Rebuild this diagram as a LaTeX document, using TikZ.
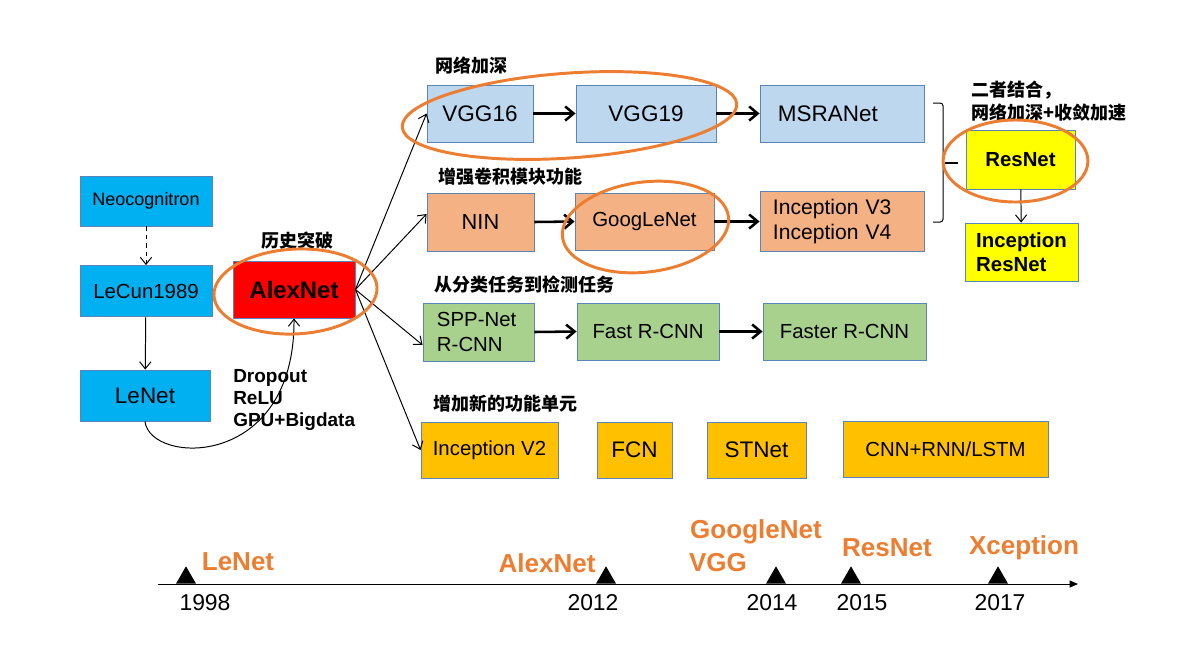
\documentclass[tikz,border=0pt]{standalone}
\usepackage{fontspec}
\setmainfont{Liberation Sans}
\newfontfamily\cjk{Noto Sans CJK SC}
\usetikzlibrary{arrows.meta,calc,shapes.geometric}

\definecolor{cyanfill}{HTML}{00B0F0}
\definecolor{vggfill}{HTML}{BDD7EE}
\definecolor{ninfill}{HTML}{F4B183}
\definecolor{detfill}{HTML}{A9D18E}
\definecolor{unitfill}{HTML}{FFC000}
\definecolor{resfill}{HTML}{FFFF00}
\definecolor{boxline}{HTML}{5B84B8}
\definecolor{hlorange}{HTML}{ED7D31}
\newcommand{\fsz}[2]{\fontsize{#1pt}{#2pt}\selectfont}

\begin{document}
\begin{tikzpicture}[
x=0.025cm, y=-0.025cm,
box/.style={
	draw=boxline, line width=0.6pt, inner sep=0pt,
	minimum height=1.425cm, font=\fsz{14.5}{18}
},
cyanbox/.style={box, fill=cyanfill},
vggbox/.style={box, fill=vggfill},
ninbox/.style={box, fill=ninfill},
detbox/.style={box, fill=detfill},
unitbox/.style={box, fill=unitfill},
resbox/.style={box, fill=resfill, font=\bfseries\fsz{14.5}{17}},
flow/.style={line width=1.8pt, -{Straight Barb[length=6pt,width=10pt]}},
fan/.style={line width=0.7pt, -{Straight Barb[length=5pt,width=8pt]}},
hl/.style={draw=hlorange, line width=2.1pt},
tag/.style={font=\cjk\bfseries\fsz{12.8}{16.4}, anchor=west, inner sep=0pt, align=left},
yearlbl/.style={font=\fsz{16.3}{19}},
milestone/.style={text=hlorange, font=\bfseries\fsz{18.5}{22}, inner sep=0pt},
tri/.style={regular polygon, regular polygon sides=3, fill=black,
	minimum size=0.58cm, inner sep=0pt, anchor=south}
]
\useasboundingbox (0,0) rectangle (1198,654);

% left column
\node[cyanbox, minimum width=3.3cm, minimum height=1.25cm, font=\fsz{12.8}{15}] (neo) at (146,201) {Neocognitron};
\node[cyanbox, minimum width=3.3cm, minimum height=1.275cm] (lecun) at (146,291) {LeCun1989};
\node[cyanbox, minimum width=3.25cm, minimum height=1.275cm, font=\fsz{16}{19}] (lenet) at (145,395.5) {LeNet};
\node[box, fill=red, minimum width=3.05cm, font=\bfseries\fsz{17}{20}] (alex) at (294,289.5) {AlexNet};
\node[tag, anchor=center] (breakthrough) at (297,241) {历史突破};
\node[anchor=west, align=left, inner sep=0pt, font=\bfseries\fsz{13.5}{15.8}] (tricks) at (233,400) {Dropout\\ReLU\\GPU+Bigdata};

% deeper
\node[tag] (deeper) at (435,66) {网络加深};
\node[vggbox, minimum width=2.65cm, font=\fsz{16}{19}] (vgg16) at (480,113.5) {VGG16};
\node[vggbox, minimum width=3.5cm, font=\fsz{16}{19}] (vgg19) at (646,113.5) {VGG19};
\node[vggbox, minimum width=4.1cm, text width=3.2cm, inner xsep=0.45cm, align=left, font=\fsz{16}{19}] (msra) at (842,113.5) {MSRANet};

% inception
\node[tag] (convblock) at (438,177) {增强卷积模块功能};
\node[ninbox, minimum width=2.675cm, minimum height=1.45cm, font=\fsz{15.5}{18}] (nin) at (480.5,222) {NIN};
\node[ninbox, minimum width=3.475cm] (goog) at (644.5,221.5) {GoogLeNet};
\node[ninbox, minimum width=4.1cm, minimum height=1.5cm, text width=3.45cm, inner xsep=0.325cm, align=left, font=\fsz{15}{17.8}] (incv34) at (842,221.5) {Inception V3\\Inception V4};

% detection
\node[tag] (detect) at (434,285) {从分类任务到检测任务};
\node[detbox, minimum width=2.775cm, minimum height=1.45cm, text width=2.075cm, inner xsep=0.35cm, align=left] (spp) at (478.5,332) {SPP-Net\\R-CNN};
\node[detbox, minimum width=3.55cm] (fast) at (648,331.5) {Fast R-CNN};
\node[detbox, minimum width=4.075cm] (faster) at (844.5,331.5) {Faster R-CNN};

% new units
\node[tag] (newunit) at (433,404) {增加新的功能单元};
\node[unitbox, minimum width=3.425cm, minimum height=1.4cm] (incv2) at (489.5,450) {Inception V2};
\node[unitbox, minimum width=1.875cm, minimum height=1.4cm, font=\fsz{16}{19}] (fcn) at (634.5,450) {FCN};
\node[unitbox, minimum width=2.475cm, minimum height=1.4cm, font=\fsz{16}{19}] (stnet) at (756.5,450) {STNet};
\node[unitbox, minimum width=5.125cm, minimum height=1.4cm] (cnnrnn) at (945.5,449) {CNN+RNN/LSTM};

% resnet
\node[tag] (combine) at (971,101.5) {二者结合，\\网络加深+收敛加速};
\node[resbox, minimum width=2.725cm, minimum height=1.475cm] (resnet) at (1020.5,159.5) {ResNet};
\node[resbox, minimum width=2.825cm, minimum height=1.45cm, align=left] (incres) at (1021.5,252) {Inception\\ResNet};

% connectors
\draw[fan, dashed] (neo) -- (lecun);
\draw[fan] (lecun) -- (lenet);
\draw[fan] (lenet.south) .. controls (150,465) and (295,470) .. (alex.south);
\draw[fan] (alex.east) -- (vgg16.west);
\draw[fan] (alex.east) -- ($(nin.west)+(0,-8)$);
\draw[fan] (alex.east) -- ($(spp.west)+(0,13)$);
\draw[fan] (alex.east) -- (incv2.west);
\draw[flow] (vgg16.east) -- (vgg19.west);
\draw[flow] (vgg19.east) -- (msra.west);
\draw[flow] (nin.east) -- (goog.west);
\draw[flow] (goog.east) -- (incv34.west);
\draw[flow] (spp.east) -- (fast.west);
\draw[flow] (fast.east) -- (faster.west);
\draw[fan] (resnet) -- (incres);
\draw[line width=0.7pt, rounded corners=2pt] (933,103) -- (943,103) -- (943,222) -- (933,222);
\draw[line width=0.9pt] (945,163) -- (958,163);

% highlights
\draw[hl, rotate around={3:(295.5,291.5)}] (295.5,291.5) ellipse [x radius=2.04cm, y radius=1.06cm];
\draw[hl, rotate around={4:(569.5,115.5)}] (569.5,115.5) ellipse [x radius=4.19cm, y radius=1.06cm];
\draw[hl, rotate around={7:(645.5,227)}] (645.5,227) ellipse [x radius=2.09cm, y radius=1.125cm];
\draw[hl] (1015.5,161) ellipse [x radius=1.81cm, y radius=1.025cm];

% timeline
\coordinate (tlstart) at (158,584);
\coordinate (tlend) at (1078,584);
\draw[line width=0.7pt, -{Triangle[length=6pt,width=5pt]}] (tlstart) -- (tlend);
\foreach \name/\x in {t98/186, t12/606, t14/776, t15/851, t17/998}
	\node[tri] (\name) at (\x,584) {};
\node[yearlbl] (y98) at (205,603) {1998};
\node[yearlbl] (y12) at (593,603) {2012};
\node[yearlbl] (y14) at (772,603) {2014};
\node[yearlbl] (y15) at (862,603) {2015};
\node[yearlbl] (y17) at (1000,603) {2017};
\node[milestone] (mlenet) at (238,562) {LeNet};
\node[milestone] (malex) at (547,563) {AlexNet};
\node[milestone] (mgoog) at (756,532) {GoogleNet};
\node[milestone] (mvgg) at (718,563) {VGG};
\node[milestone] (mres) at (887,548) {ResNet};
\node[milestone] (mxcep) at (1024,548) {Xception};
\end{tikzpicture}
\end{document}
